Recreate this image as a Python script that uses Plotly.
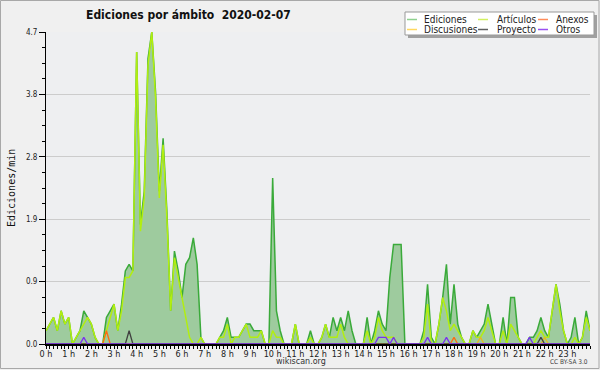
import plotly.graph_objects as go

# ---- data: edits per minute, 10-minute bins, 2020-02-07 ----
minutos = list(range(0, 1441, 10))

ediciones = [
    0.2, 0.3, 0.4, 0.2, 0.5, 0.3, 0.4, 0.0, 0.1, 0.2, 0.5, 0.4,
    0.3, 0.1, 0.0, 0.0, 0.4, 0.5, 0.6, 0.2, 0.6, 1.1, 1.2, 1.1,
    4.4, 1.8, 2.3, 4.3, 4.7, 3.8, 2.3, 3.1, 2.0, 0.5, 1.4, 1.1,
    0.7, 1.2, 1.3, 1.6, 1.2, 0.1, 0.0, 0.0, 0.0, 0.0, 0.1, 0.2,
    0.4, 0.1, 0.1, 0.1, 0.2, 0.3, 0.3, 0.2, 0.2, 0.2, 0.0, 0.0,
    2.5, 0.5, 0.2, 0.0, 0.0, 0.0, 0.3, 0.0, 0.0, 0.0, 0.2, 0.0,
    0.0, 0.1, 0.3, 0.1, 0.4, 0.2, 0.4, 0.2, 0.5, 0.2, 0.0, 0.0,
    0.0, 0.4, 0.0, 0.2, 0.5, 0.3, 0.2, 1.0, 1.5, 1.5, 1.5, 0.0,
    0.0, 0.0, 0.0, 0.0, 0.2, 0.9, 0.1, 0.0, 0.3, 0.7, 1.2, 0.3,
    0.9, 0.3, 0.1, 0.0, 0.0, 0.2, 0.1, 0.2, 0.3, 0.6, 0.3, 0.0,
    0.0, 0.4, 0.0, 0.7, 0.7, 0.1, 0.0, 0.0, 0.1, 0.1, 0.2, 0.4,
    0.2, 0.1, 0.5, 0.9, 0.6, 0.2, 0.0, 0.1, 0.4, 0.0, 0.1, 0.5,
    0.2,
]

articulos = [
    0.2, 0.3, 0.4, 0.2, 0.5, 0.3, 0.4, 0.0, 0.1, 0.2, 0.3, 0.4,
    0.3, 0.1, 0.0, 0.0, 0.2, 0.4, 0.6, 0.2, 0.5, 1.0, 1.0, 1.1,
    4.4, 1.7, 2.2, 4.2, 4.7, 3.7, 2.2, 3.0, 1.9, 0.5, 1.3, 1.0,
    0.7, 0.4, 0.1, 0.0, 0.0, 0.1, 0.0, 0.0, 0.0, 0.0, 0.1, 0.1,
    0.3, 0.0, 0.1, 0.1, 0.2, 0.3, 0.1, 0.1, 0.1, 0.2, 0.0, 0.0,
    0.2, 0.1, 0.1, 0.0, 0.0, 0.0, 0.3, 0.0, 0.0, 0.0, 0.1, 0.0,
    0.0, 0.1, 0.3, 0.1, 0.1, 0.1, 0.3, 0.1, 0.0, 0.0, 0.0, 0.0,
    0.0, 0.2, 0.0, 0.1, 0.4, 0.2, 0.1, 0.1, 0.1, 0.0, 0.0, 0.0,
    0.0, 0.0, 0.0, 0.0, 0.1, 0.6, 0.0, 0.0, 0.3, 0.7, 0.5, 0.2,
    0.3, 0.2, 0.1, 0.0, 0.0, 0.2, 0.1, 0.1, 0.2, 0.4, 0.2, 0.0,
    0.0, 0.2, 0.0, 0.3, 0.2, 0.1, 0.0, 0.0, 0.0, 0.0, 0.1, 0.2,
    0.1, 0.1, 0.5, 0.9, 0.5, 0.2, 0.0, 0.0, 0.1, 0.0, 0.1, 0.4,
    0.2,
]

anexos = [
    0, 0, 0, 0, 0, 0, 0, 0, 0, 0, 0, 0,
    0, 0, 0, 0, 0.2, 0, 0, 0, 0, 0, 0, 0,
    0, 0, 0, 0, 0, 0, 0, 0, 0, 0, 0, 0,
    0, 0, 0, 0, 0, 0, 0, 0, 0, 0, 0, 0,
    0, 0, 0, 0, 0, 0, 0, 0, 0, 0, 0, 0,
    0, 0, 0, 0, 0, 0, 0, 0, 0, 0, 0, 0,
    0, 0, 0, 0, 0, 0, 0, 0, 0, 0, 0, 0,
    0, 0, 0, 0, 0, 0, 0, 0, 0, 0, 0, 0,
    0, 0, 0, 0, 0, 0, 0, 0, 0, 0, 0, 0,
    0.1, 0, 0, 0, 0, 0, 0, 0, 0, 0, 0, 0,
    0, 0, 0, 0, 0, 0, 0, 0, 0, 0, 0, 0,
    0, 0, 0, 0, 0, 0, 0, 0, 0, 0, 0, 0,
    0,
]

discusiones = [
    0, 0, 0, 0, 0, 0, 0, 0, 0, 0, 0, 0,
    0, 0, 0, 0, 0, 0, 0, 0, 0, 0, 0, 0,
    0, 0, 0, 0, 0, 0, 0, 0, 0, 0, 0, 0,
    0, 0, 0, 0, 0, 0, 0, 0, 0, 0, 0, 0,
    0, 0, 0, 0, 0, 0, 0, 0, 0, 0, 0, 0,
    0, 0, 0, 0, 0, 0, 0, 0, 0, 0, 0, 0,
    0, 0, 0, 0, 0, 0, 0, 0, 0, 0, 0, 0,
    0, 0, 0, 0, 0, 0, 0, 0, 0, 0, 0, 0,
    0, 0, 0, 0, 0, 0, 0, 0, 0, 0, 0, 0,
    0, 0, 0, 0, 0, 0, 0, 0.1, 0, 0, 0, 0,
    0, 0, 0, 0, 0, 0, 0, 0, 0, 0, 0, 0,
    0.1, 0, 0, 0, 0, 0, 0, 0, 0, 0, 0, 0,
    0,
]

proyecto = [
    0, 0, 0, 0, 0, 0, 0, 0, 0, 0, 0, 0,
    0, 0, 0, 0, 0, 0, 0, 0, 0, 0, 0.2, 0,
    0, 0, 0, 0, 0, 0, 0, 0, 0, 0, 0, 0,
    0, 0, 0, 0, 0, 0, 0, 0, 0, 0, 0, 0,
    0, 0, 0, 0, 0, 0, 0, 0, 0, 0, 0, 0,
    0, 0, 0, 0, 0, 0, 0, 0, 0, 0, 0, 0,
    0, 0, 0, 0, 0, 0, 0, 0, 0, 0, 0, 0,
    0, 0, 0, 0, 0, 0, 0, 0, 0, 0, 0, 0,
    0, 0, 0, 0, 0, 0, 0, 0, 0, 0, 0, 0,
    0, 0, 0, 0, 0, 0, 0, 0, 0, 0, 0, 0,
    0, 0, 0, 0, 0, 0, 0, 0, 0, 0, 0, 0.1,
    0, 0, 0, 0, 0, 0, 0, 0, 0, 0, 0, 0,
    0,
]

otros = [
    0, 0, 0, 0, 0, 0, 0, 0, 0, 0, 0.1, 0,
    0, 0, 0, 0, 0, 0, 0, 0, 0, 0, 0, 0,
    0, 0, 0, 0, 0, 0, 0, 0, 0, 0, 0, 0,
    0, 0, 0, 0, 0, 0, 0, 0, 0, 0, 0, 0,
    0, 0, 0, 0, 0, 0, 0, 0, 0, 0, 0, 0,
    0, 0, 0, 0, 0, 0, 0, 0, 0, 0, 0, 0,
    0, 0, 0, 0, 0, 0, 0, 0, 0, 0, 0, 0,
    0, 0, 0, 0, 0.1, 0.1, 0.1, 0, 0.1, 0, 0, 0,
    0, 0, 0, 0, 0, 0.1, 0, 0, 0, 0, 0.1, 0,
    0, 0, 0, 0, 0, 0, 0, 0, 0, 0, 0, 0,
    0, 0, 0, 0, 0, 0, 0, 0, 0.1, 0, 0, 0,
    0, 0, 0, 0, 0, 0, 0, 0, 0, 0, 0, 0,
    0,
]

hour_ticks = list(range(24))
hour_labels = [f"{h} h" for h in hour_ticks]
y_ticks = [0, 0.94, 1.88, 2.82, 3.76, 4.7]
y_labels = ["0.0", "0.9", "1.9", "2.8", "3.8", "4.7"]

legend_names = ["Ediciones", "Artículos", "Anexos", "Discusiones", "Proyecto", "Otros"]
legend_colors = ["#8fd18f", "#d2f060", "#ff8c5a", "#ffd860", "#606060", "#9a50f0"]

FONT = "DejaVu Sans Condensed, DejaVu Sans"

# ---- layout geometry (pixels) ----
W, H = 600, 370
L, R, T, B = 46, 10, 32, 26
PW, PH = W - L - R, H - T - B


def px(x):
    return (x - L) / PW


def py(y):
    return (H - B - y) / PH


x = [m / 60 for m in minutos]

fig = go.Figure()
fig.add_trace(go.Scatter(x=x, y=ediciones, mode="lines", name="Ediciones",
                         line=dict(color="#3aaa3a", width=1.5),
                         fill="tozeroy", fillcolor="#9ecb9e"))
fig.add_trace(go.Scatter(x=x, y=articulos, mode="lines", name="Artículos",
                         line=dict(color="#b2ee10", width=1.5)))
small = [("Anexos", anexos, "#ff6a10"), ("Discusiones", discusiones, "#e8b820"),
         ("Proyecto", proyecto, "#404040"), ("Otros", otros, "#7a30f0")]
for name, vals, col in small:
    fig.add_trace(go.Scatter(x=x, y=vals, mode="lines", name=name,
                             line=dict(color=col, width=1.3)))

shapes = []
annotations = []

# outer frame
shapes.append(dict(type="rect", xref="paper", yref="paper",
                   x0=px(0.5), x1=px(599), y0=py(0.5), y1=py(368.5),
                   line=dict(color="#a8a8a8", width=1), layer="below"))

# legend box with shadow
shapes.append(dict(type="rect", xref="paper", yref="paper",
                   x0=px(408), x1=px(597), y0=py(15), y1=py(38),
                   fillcolor="#a0a0a0", line=dict(width=0)))
shapes.append(dict(type="rect", xref="paper", yref="paper",
                   x0=px(405), x1=px(594), y0=py(12), y1=py(35),
                   fillcolor="#ffffff", line=dict(color="#999999", width=1)))
col_sw = [407, 478, 538]
col_tx = [422, 495, 554]
row_y = [19.5, 29.5]
for k, (nm, cl) in enumerate(zip(legend_names, legend_colors)):
    r, c = divmod(k, 3)
    shapes.append(dict(type="line", xref="paper", yref="paper",
                       x0=px(col_sw[c]), x1=px(col_sw[c] + 10),
                       y0=py(row_y[r]), y1=py(row_y[r]),
                       line=dict(color=cl, width=1.5)))
    annotations.append(dict(text=nm, xref="paper", yref="paper",
                            x=px(col_tx[c]), y=py(row_y[r]), xanchor="left",
                            yanchor="middle", showarrow=False,
                            font=dict(size=10, color="#222222", family=FONT)))

annotations.append(dict(text="<b>Ediciones por ámbito \u00a02020-02-07</b>",
                        xref="paper", yref="paper", x=px(188), y=py(15),
                        xanchor="center", yanchor="middle", showarrow=False,
                        font=dict(size=12, color="#111111", family=FONT)))
annotations.append(dict(text="Ediciones/min", xref="paper", yref="paper",
                        x=px(11), y=py(188), textangle=-90, xanchor="center",
                        yanchor="middle", showarrow=False,
                        font=dict(size=10, color="#111111", family="DejaVu Sans Mono")))
annotations.append(dict(text="wikiscan.org", xref="paper", yref="paper",
                        x=px(301), y=py(361), xanchor="center", yanchor="middle",
                        showarrow=False,
                        font=dict(size=8, color="#333333", family="DejaVu Sans")))
annotations.append(dict(text="CC BY-SA 3.0", xref="paper", yref="paper",
                        x=px(590), y=py(362), xanchor="right", yanchor="middle",
                        showarrow=False,
                        font=dict(size=6.5, color="#444444", family=FONT)))

fig.update_layout(
    width=W, height=H,
    margin=dict(l=L, r=R, t=T, b=B, pad=0),
    paper_bgcolor="#f0f0f0",
    plot_bgcolor="#eeeff1",
    showlegend=False,
    font=dict(family=FONT, size=9, color="#222222"),
    shapes=shapes,
    annotations=annotations,
    xaxis=dict(range=[0, 24], tickmode="array", tickvals=hour_ticks,
               ticktext=hour_labels, ticks="outside", ticklen=3,
               tickcolor="#000000", tickwidth=1, showgrid=False, zeroline=False,
               showline=True, linecolor="#000000", linewidth=1.5,
               ticklabelstandoff=-3,
               tickfont=dict(size=9, color="#222222", family=FONT),
               minor=dict(tickmode="array", tickvals=x, ticks="outside",
                          ticklen=3, tickcolor="#000000", showgrid=False)),
    yaxis=dict(range=[0, 4.7], tickmode="array", tickvals=y_ticks,
               ticktext=y_labels, ticks="outside", ticklen=6,
               tickcolor="#000000", showgrid=True, gridcolor="#cccccc",
               gridwidth=1, zeroline=False, showline=True,
               linecolor="#000000", linewidth=1,
               tickfont=dict(size=8, color="#222222", family=FONT),
               minor=dict(tickmode="linear", tick0=0, dtick=0.235,
                          ticks="outside", ticklen=3, tickcolor="#000000",
                          showgrid=False)),
)

fig.write_html("out.html", config={"displayModeBar": False},
               post_script="document.body.style.margin='0px';")
